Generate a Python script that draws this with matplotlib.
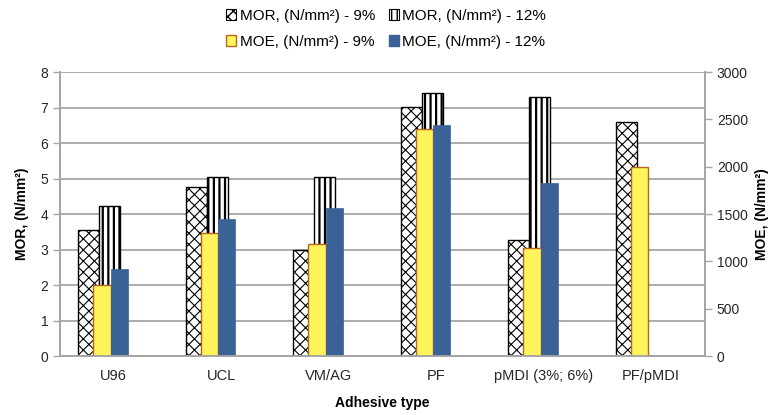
import numpy as np
import matplotlib
matplotlib.use('Agg')
import matplotlib.pyplot as plt
from matplotlib.patches import Patch

plt.rcParams['font.family'] = ['Liberation Sans', 'DejaVu Sans']

adhesives = ['U96', 'UCL', 'VM/AG', 'PF', 'pMDI (3%; 6%)', 'PF/pMDI']

# Modulus of rupture, N/mm2 (left axis)
mor_9 = [3.55, 4.77, 2.99, 7.02, 3.27, 6.58]
mor_12 = [4.23, 5.03, 5.03, 7.42, 7.29, np.nan]

# Modulus of elasticity, N/mm2 (right axis)
moe_9 = [750, 1296, 1180, 2398, 1137, 2000]
moe_12 = [916, 1444, 1567, 2440, 1831, np.nan]

grid_col = '#A6A6A6'
yellow = '#FFF45C'
yellow_edge = '#B8651E'
blue = '#3A6296'

fig = plt.figure(figsize=(7.72, 4.15), dpi=100)
ax = fig.add_axes([0.0777, 0.142, 0.8355, 0.6845])
ax2 = ax.twinx()

x = np.arange(len(adhesives))
w_mor = 0.195
w_moe = 0.16

# hatch line width is picked up when the patches are made
with plt.rc_context({'hatch.linewidth': 0.8}):
	ax.bar(x - 0.33, mor_9, width=w_mor, align='edge', color='white',
	       edgecolor='black', hatch='xxx', linewidth=1.0, zorder=2)
	h_mor9 = Patch(facecolor='white', edgecolor='black', hatch='xxx',
	               linewidth=0.8)
with plt.rc_context({'hatch.linewidth': 1.6}):
	ax.bar(x - 0.135, mor_12, width=w_mor, align='edge', color='white',
	       edgecolor='black', hatch='|||', linewidth=1.0, zorder=2)
	h_mor12 = Patch(facecolor='white', edgecolor='black', hatch='|||',
	                linewidth=0.8)
ax2.bar(x - 0.19, moe_9, width=w_moe, align='edge', color=yellow,
        edgecolor=yellow_edge, linewidth=1.0, zorder=2)
ax2.bar(x - 0.03, moe_12, width=w_moe, align='edge', color=blue,
        edgecolor=blue, linewidth=0.5, zorder=2)

ax.set_xlim(-0.5, len(adhesives) - 0.5)
ax.set_ylim(0, 8)
ax2.set_ylim(0, 3000)
ax.set_yticks(np.arange(0, 9, 1))
ax2.set_yticks(np.arange(0, 3001, 500))
ax.set_xticks(x)
ax.set_xticklabels(adhesives, fontsize=10.5)

ax.yaxis.grid(True, color=grid_col, linewidth=1.3, zorder=0)
ax.set_axisbelow(True)

for a in (ax, ax2):
	a.spines['top'].set_visible(False)
	for s in ('left', 'right', 'bottom'):
		a.spines[s].set_color(grid_col)
		a.spines[s].set_linewidth(1.3)
	a.tick_params(axis='y', colors=grid_col, labelcolor='#262626',
	              labelsize=10, length=5, width=1.0, direction='out')
ax.tick_params(axis='x', length=0, pad=9, labelcolor='#262626')

ax.set_xlabel('Adhesive type', fontsize=10, fontweight='bold', labelpad=10)
ax.set_ylabel('MOR, (N/mm²)', fontsize=10, fontweight='bold', labelpad=8)
ax2.set_ylabel('MOE, (N/mm²)', fontsize=10, fontweight='bold', labelpad=5)

# ncol=2 fills column by column, so MOR/MOE pairs alternate here
handles = [
	h_mor9,
	Patch(facecolor=yellow, edgecolor=yellow_edge, linewidth=1.0),
	h_mor12,
	Patch(facecolor=blue, edgecolor=blue),
]
labels = ['MOR, (N/mm²) - 9%', 'MOE, (N/mm²) - 9%',
          'MOR, (N/mm²) - 12%', 'MOE, (N/mm²) - 12%']
fig.legend(handles, labels, loc='upper center', bbox_to_anchor=(0.5, 1.0),
           ncol=2, frameon=False, fontsize=11, handlelength=0.7,
           handleheight=0.7, handletextpad=0.2, columnspacing=0.9,
           labelspacing=0.75, borderaxespad=0.2)

fig.savefig('out.png', dpi=100)
